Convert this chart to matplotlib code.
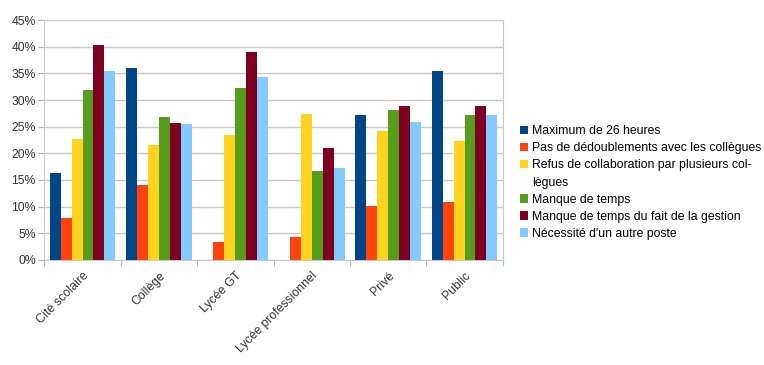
import numpy as np
import matplotlib.pyplot as plt
from matplotlib.patches import Rectangle
from matplotlib.ticker import FuncFormatter

plt.rcParams['font.family'] = ['Liberation Sans', 'DejaVu Sans']

categories = ["Cité scolaire", "Collège", "Lycée GT", "Lycée professionnel", "Privé", "Public"]
seriesNames = ["Maximum de 26 heures",
               "Pas de dédoublements avec les collègues",
               "Refus de collaboration par plusieurs col-",
               "Manque de temps",
               "Manque de temps du fait de la gestion",
               "Nécessité d'un autre poste"]
wrappedTail = "lègues"

maximum26 = [16.3, 36.1, 0.0, 0.0, 27.1, 35.4]
pasDedoublement = [7.8, 14.1, 3.3, 4.3, 10.1, 10.9]
refusCollab = [22.7, 21.5, 23.5, 27.4, 24.2, 22.3]
manqueTemps = [31.9, 26.9, 32.2, 16.6, 28.1, 27.1]
manqueGestion = [40.4, 25.7, 39.1, 21.0, 28.8, 28.8]
autrePoste = [35.4, 25.5, 34.4, 17.2, 25.9, 27.2]

allSeries = [maximum26, pasDedoublement, refusCollab, manqueTemps, manqueGestion, autrePoste]
COLORLIST = ["#004586", "#ff420e", "#ffd320", "#579d1c", "#7e0021", "#83caff"]
fs = 8.8

fig = plt.figure(figsize=(7.64, 3.65), dpi=100)
ax = fig.add_axes([0.058, 0.288, 0.6, 0.657])

ind = np.arange(len(categories))
width = 0.86 / len(allSeries)
handles = []
for i, vals in enumerate(allSeries):
    offs = ind - 0.43 + width * (i + 0.5)
    b = ax.bar(offs, vals, width, color=COLORLIST[i], zorder=3)
    handles.append(b[0])

ax.set_xlim(-0.5, len(categories) - 0.5)
ax.set_ylim(0, 45)
ax.set_yticks(np.arange(0, 46, 5))
ax.yaxis.set_major_formatter(FuncFormatter(lambda v, p: "%d%%" % v))
ax.grid(axis="y", color="#c8c8c8", linewidth=1, zorder=0)

# tick marks between categories, labels at centers
ax.set_xticks(np.arange(len(categories) + 1) - 0.5)
ax.set_xticklabels([])
ax.set_xticks(ind, minor=True)
ax.set_xticklabels(categories, minor=True, rotation=45, ha="right",
                   rotation_mode="anchor", fontsize=fs, color="#333333")
ax.tick_params(axis="x", which="minor", length=0, pad=7)
ax.tick_params(axis="x", which="major", length=4, color="#b3b3b3")
ax.tick_params(axis="y", length=4, color="#b3b3b3", labelsize=fs, labelcolor="#333333", pad=2)

for side in ["left", "right", "top", "bottom"]:
    ax.spines[side].set_color("#c8c8c8")

# wrapped legend label: second line as an entry with an invisible handle
blank = Rectangle((0, 0), 1, 1, alpha=0)
legHandles = handles[:3] + [blank] + handles[3:]
legLabels = seriesNames[:3] + [wrappedTail] + seriesNames[3:]
fig.legend(legHandles, legLabels, loc="center left", bbox_to_anchor=(0.672, 0.5),
           frameon=False, fontsize=fs, handlelength=0.7, handleheight=0.7,
           handletextpad=0.3, labelspacing=0.42, borderpad=0)

plt.savefig("out.png", dpi=100)
